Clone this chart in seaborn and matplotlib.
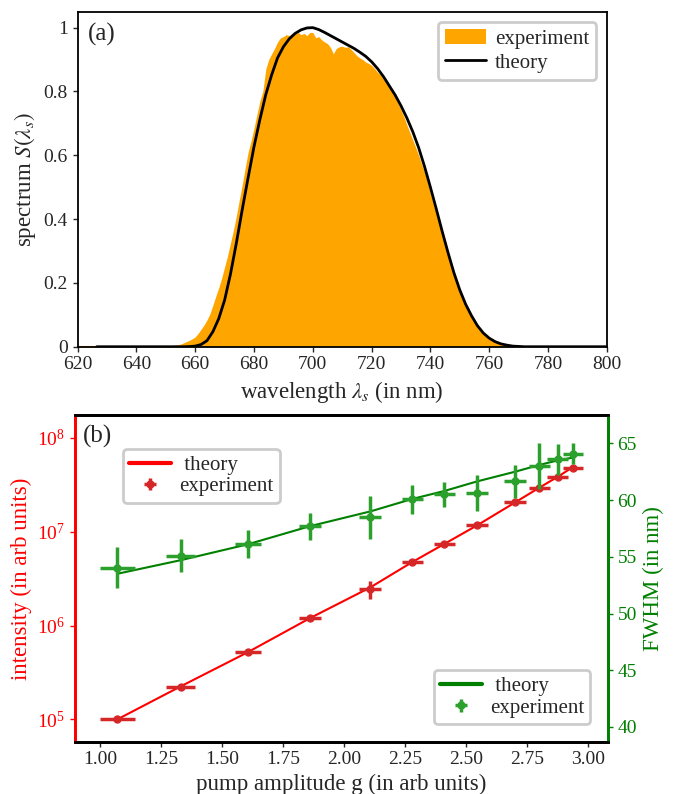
import numpy as np
import matplotlib
matplotlib.use('Agg')
import matplotlib.pyplot as plt
import seaborn as sns
from matplotlib.ticker import NullLocator, FormatStrFormatter
from matplotlib.legend_handler import HandlerErrorbar
from matplotlib.container import ErrorbarContainer

sns.set_style('ticks')
plt.rcParams['font.family'] = ['Liberation Serif', 'DejaVu Serif']
plt.rcParams['mathtext.fontset'] = 'stix'
plt.rcParams['font.size'] = 14

# --- panel (a): measured spectrum (1 nm grid around the peak) and theory curve
wl_exp = [620, 626, 627, 650, 652, 654] + list(range(655, 771)) + [772, 800]
spec_exp = [0.004, 0.004, 0.002, 0.003, 0.004, 0.006,
            0.008, 0.012, 0.016, 0.020, 0.025, 0.031, 0.042, 0.055, 0.068, 0.084,
            0.103, 0.130, 0.158, 0.185, 0.215, 0.250, 0.285, 0.325, 0.365, 0.410,
            0.460, 0.508, 0.560, 0.610, 0.645, 0.685, 0.728, 0.770, 0.800, 0.870,
            0.900, 0.918, 0.935, 0.955, 0.968, 0.972, 0.978, 0.975, 0.982, 0.980,
            0.985, 0.978, 0.982, 0.975, 0.985, 0.985, 0.968, 0.972, 0.962, 0.955,
            0.950, 0.938, 0.918, 0.935, 0.940, 0.942, 0.938, 0.940, 0.932, 0.922,
            0.912, 0.905, 0.900, 0.892, 0.888, 0.882, 0.872, 0.860, 0.852, 0.838,
            0.826, 0.812, 0.798, 0.782, 0.762, 0.742, 0.720, 0.695, 0.672, 0.648,
            0.625, 0.600, 0.572, 0.548, 0.515, 0.480, 0.448, 0.415, 0.385, 0.350,
            0.320, 0.288, 0.258, 0.228, 0.200, 0.175, 0.150, 0.128, 0.110, 0.092,
            0.077, 0.062, 0.050, 0.040, 0.032, 0.025, 0.020, 0.015, 0.012, 0.009,
            0.007, 0.005, 0.004, 0.003, 0.002, 0.001,
            0.0, 0.0]

wl_theory = [626.5, 656] + list(range(658, 774, 2)) + [800]
spec_theory = [0.0, 0.0,
               0.0005, 0.002, 0.007, 0.019, 0.047, 0.088, 0.146, 0.228, 0.325, 0.430,
               0.530, 0.627, 0.712, 0.790, 0.852, 0.905, 0.940, 0.965, 0.982, 0.993,
               0.999, 1.000, 0.994, 0.985, 0.975, 0.965, 0.955, 0.945, 0.935, 0.923,
               0.910, 0.893, 0.872, 0.847, 0.818, 0.789, 0.755, 0.717, 0.674, 0.624,
               0.565, 0.500, 0.432, 0.362, 0.295, 0.232, 0.178, 0.133, 0.097, 0.066,
               0.043, 0.027, 0.016, 0.009, 0.005, 0.002, 0.001, 0.0,
               0.0]

# --- panel (b): pump amplitude scan
g_vals = [1.07, 1.33, 1.605, 1.86, 2.107, 2.279, 2.41, 2.545, 2.70, 2.80, 2.875, 2.938]
g_err = [0.072, 0.061, 0.053, 0.046, 0.045, 0.043, 0.044, 0.044, 0.044, 0.042, 0.044, 0.041]
int_exp = [1.0e5, 2.23e5, 5.2e5, 1.19e6, 2.46e6, 4.76e6, 7.36e6, 1.17e7, 2.07e7, 2.95e7, 3.84e7, 4.83e7]
int_err = [4e3, 9e3, 2e4, 5e4, 5.5e5, 2e5, 3e5, 5e5, 8e5, 1.2e6, 1.5e6, 2e6]
int_theory = [1.0e5, 2.25e5, 5.2e5, 1.2e6, 2.55e6, 4.75e6, 7.4e6, 1.17e7, 2.05e7, 2.95e7, 3.85e7, 4.9e7]
fwhm_exp = [54.05, 55.09, 56.13, 57.69, 58.49, 60.06, 60.5, 60.62, 61.65, 63.0, 63.58, 64.1]
fwhm_err = [1.83, 1.46, 1.21, 1.17, 1.88, 1.26, 1.11, 1.58, 1.43, 2.04, 1.36, 0.95]
fwhm_theory = [53.5, 54.7, 56.1, 57.7, 59.0, 60.1, 60.8, 61.65, 62.5, 63.1, 63.5, 63.75]

LABEL_FS = 16.5
TICK_FS = 14
LEG_FS = 15

fig = plt.figure(figsize=(6.81, 7.94), dpi=100)
ax1 = fig.add_axes([0.114, 0.5633, 0.777, 0.422])
ax2 = fig.add_axes([0.110, 0.0659, 0.7825, 0.4114])
ax3 = ax2.twinx()

# (a)
ax1.fill_between(wl_exp, spec_exp, color='orange', lw=0, label='experiment')
sns.lineplot(x=wl_theory, y=spec_theory, color='black', lw=2, ax=ax1, label='theory')
ax1.set_xlim(620, 800)
ax1.set_ylim(0, 1.05)
ax1.set_xticks(range(620, 801, 20))
ax1.set_yticks([0, 0.2, 0.4, 0.6, 0.8, 1.0])
ax1.yaxis.set_major_formatter(FormatStrFormatter('%g'))
ax1.set_xlabel(r'wavelength $\lambda_s$ (in nm)', fontsize=LABEL_FS)
ax1.set_ylabel(r'spectrum $S(\lambda_s)$', fontsize=LABEL_FS)
ax1.text(0.02, 0.965, '(a)', transform=ax1.transAxes, ha='left', va='top', fontsize=18)
leg1 = ax1.legend(loc='upper right', fontsize=LEG_FS, frameon=True, fancybox=True,
                  edgecolor='0.8', framealpha=1, handletextpad=0.4,
                  labelspacing=0.2, borderpad=0.35)
leg1.get_frame().set_linewidth(2)
for sp in ax1.spines.values():
    sp.set_linewidth(1.3)
    sp.set_color('black')
ax1.tick_params(direction='out', length=3.5, width=1, labelsize=TICK_FS)

hmap = {ErrorbarContainer: HandlerErrorbar(xerr_size=0.3)}

# (b) intensity on log axis
sns.lineplot(x=g_vals, y=int_theory, color='red', lw=1.5, ax=ax2, legend=False)
eb_r = ax2.errorbar(g_vals, int_exp, xerr=g_err, yerr=int_err, fmt='o', color='tab:red',
                    ms=5, elinewidth=2.5, capsize=0)
ax2.set_yscale('log')
ax2.yaxis.set_minor_locator(NullLocator())
ax2.set_ylim(5.8e4, 1.75e8)
ax2.set_xlim(0.897, 3.08)
ax2.set_xticks([1.0, 1.25, 1.5, 1.75, 2.0, 2.25, 2.5, 2.75, 3.0])
ax2.xaxis.set_major_formatter(FormatStrFormatter('%.2f'))
ax2.set_xlabel('pump amplitude g (in arb units)', fontsize=LABEL_FS)
ax2.set_ylabel('intensity (in arb units)', color='red', fontsize=LABEL_FS)
ax2.tick_params(axis='y', colors='red', direction='out', length=3.5, width=1, labelsize=TICK_FS)
ax2.tick_params(axis='x', direction='out', length=3.5, width=1, labelsize=TICK_FS)
ax2.text(0.015, 0.97, '(b)', transform=ax2.transAxes, ha='left', va='top', fontsize=18)
line_r = ax2.lines[0]
leg2 = ax2.legend([line_r, eb_r], [' theory', 'experiment'], loc='upper left',
                  bbox_to_anchor=(0.09, 0.896), borderaxespad=0, fontsize=LEG_FS,
                  fancybox=True, edgecolor='0.8', framealpha=1, handletextpad=0.4,
                  labelspacing=0.1, borderpad=0.3, handler_map=hmap)
leg2.get_frame().set_linewidth(2)
leg2.legend_handles[0].set_linewidth(3)

# (b) FWHM on twin axis
sns.lineplot(x=g_vals, y=fwhm_theory, color='green', lw=1.5, ax=ax3, legend=False)
eb_g = ax3.errorbar(g_vals, fwhm_exp, xerr=g_err, yerr=fwhm_err, fmt='o', color='tab:green',
                    ms=5, elinewidth=2.5, capsize=0)
ax3.set_ylim(38.7, 67.5)
ax3.set_yticks([40, 45, 50, 55, 60, 65])
ax3.set_ylabel('FWHM (in nm)', color='green', fontsize=LABEL_FS)
ax3.tick_params(axis='y', colors='green', direction='out', length=3.5, width=1, labelsize=TICK_FS)
line_g = ax3.lines[0]
leg3 = ax3.legend([line_g, eb_g], [' theory', 'experiment'], loc='lower right',
                  bbox_to_anchor=(0.9675, 0.054), borderaxespad=0, fontsize=LEG_FS,
                  fancybox=True, edgecolor='0.8', framealpha=1, handletextpad=0.4,
                  labelspacing=0.1, borderpad=0.3, handler_map=hmap)
leg3.get_frame().set_linewidth(2)
leg3.legend_handles[0].set_linewidth(3)

for a in (ax2, ax3):
    a.spines['top'].set_color('black')
    a.spines['bottom'].set_color('black')
    a.spines['left'].set_color('red')
    a.spines['right'].set_color('green')
    for sp in a.spines.values():
        sp.set_linewidth(2)

fig.savefig('out.png', dpi=100)
